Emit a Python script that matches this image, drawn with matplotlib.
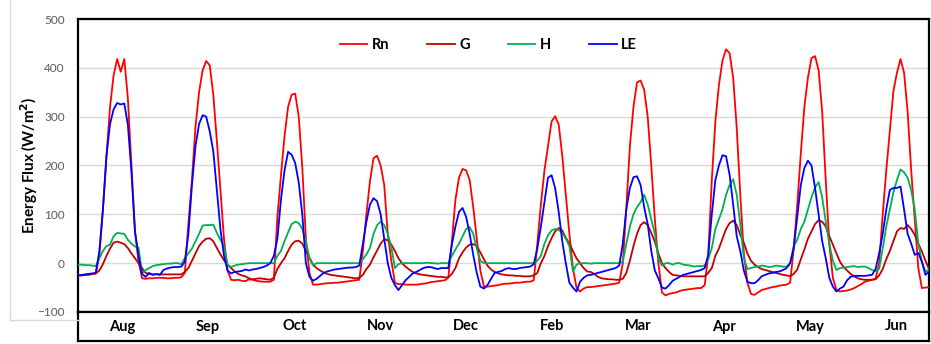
import matplotlib
matplotlib.use("Agg")
import matplotlib.pyplot as plt
from matplotlib.lines import Line2D
import numpy as np

plt.rcParams['font.family'] = ['Lato', 'DejaVu Sans']

months = ["Aug", "Sep", "Oct", "Nov", "Dec", "Feb", "Mar", "Apr", "May", "Jun"]
hours_per_month = 24

# Hourly mean diurnal cycles (W/m2), one row of 24 values per month
rn = [
    -25, -25, -24, -24, -22, -21, 15, 110, 220, 320, 385, 418, 392, 418, 338, 200, 65, 3, -31, -32, -31, -31, -30, -30,
    -30, -31, -31, -30, -30, -29, -20, 80, 170, 280, 350, 395, 414, 405, 345, 250, 150, 50, -15, -34, -35, -34, -36, -37,
    -33, -34, -36, -37, -38, -38, -38, -34, 95, 180, 260, 320, 345, 347, 300, 195, 50, -20, -44, -44, -43, -42, -41, -41,
    -40, -40, -39, -38, -37, -36, -35, -34, 25, 100, 168, 215, 220, 200, 160, 60, 5, -40, -43, -43, -44, -44, -44, -44,
    -43, -42, -41, -39, -38, -37, -36, -35, -30, 44, 130, 175, 193, 190, 170, 115, 50, -15, -48, -48, -47, -46, -45, -43,
    -42, -42, -41, -40, -40, -39, -38, -38, -35, 40, 120, 190, 240, 290, 301, 284, 220, 140, 60, -10, -50, -58, -52, -49,
    -49, -48, -47, -46, -45, -44, -43, -42, -40, 0, 115, 240, 320, 370, 374, 355, 300, 200, 90, 0, -60, -66, -63, -61,
    -60, -57, -55, -54, -53, -52, -51, -51, -45, 17, 170, 290, 365, 415, 438, 430, 380, 277, 140, 20, -40, -63, -65, -60,
    -55, -53, -51, -49, -48, -46, -45, -44, -40, 30, 120, 225, 320, 380, 420, 424, 395, 310, 170, 40, -30, -55, -58, -57,
    -56, -54, -51, -47, -43, -38, -36, -34, -32, 0, 100, 190, 270, 352, 390, 418, 390, 310, 190, 90, -10, -51, -50, -49,
]

g = [
    -25, -25, -24, -23, -22, -21, -15, -2, 15, 30, 42, 44, 42, 39, 31, 20, 10, 0, -10, -20, -22, -23, -23, -23,
    -23, -23, -23, -23, -23, -23, -18, -10, 5, 20, 35, 44, 50, 51, 45, 31, 18, 6, -3, -10, -17, -22, -25, -27,
    -31, -33, -32, -31, -32, -33, -34, -30, -12, 0, 10, 25, 38, 45, 46, 40, 25, 12, -3, -10, -15, -19, -22, -24,
    -25, -26, -27, -28, -29, -30, -31, -30, -24, -12, -3, 12, 26, 40, 49, 47, 38, 25, 10, 0, -7, -13, -18, -21,
    -23, -24, -25, -26, -27, -28, -28, -29, -29, -22, -10, 10, 22, 32, 38, 39, 35, 22, 8, -5, -13, -18, -21, -23,
    -24, -25, -25, -26, -26, -27, -27, -27, -25, -20, 0, 15, 35, 51, 65, 72, 67, 52, 40, 25, 10, 0, -10, -17,
    -18, -22, -28, -31, -32, -33, -33, -34, -34, -32, -20, 5, 35, 60, 78, 84, 78, 62, 44, 20, 0, -10, -18, -24,
    -25, -26, -27, -27, -27, -27, -27, -27, -27, -20, -10, 15, 30, 50, 70, 82, 87, 78, 58, 42, 20, 5, -3, -8,
    -12, -14, -16, -18, -20, -22, -24, -25, -27, -22, -13, 8, 28, 50, 65, 80, 88, 85, 75, 55, 38, 20, 3, -8,
    -15, -22, -27, -31, -33, -34, -34, -34, -33, -25, -12, 8, 25, 45, 65, 72, 70, 78, 70, 58, 40, 24, 5, -12,
]

h = [
    -3, -3, -4, -4, -5, -6, 10, 25, 35, 38, 55, 62, 61, 60, 48, 40, 34, 32, -20, -14, -10, -6, -4, -3,
    -2, -1, -1, 0, 0, -2, 10, 20, 30, 45, 60, 77, 78, 78, 79, 62, 48, 35, -3, -8, -5, -3, -2, -1,
    0, 0, 0, 0, 0, 0, 0, 0, 15, 25, 45, 63, 80, 85, 82, 70, 45, 10, -5, 0, 0, 0, 0, 0,
    0, 0, 0, 0, 0, 0, 0, 0, 8, 18, 31, 60, 78, 85, 78, 60, 33, -10, -2, 0, 0, 0, 0, 0,
    0, 0, 1, 0, 0, -1, 0, 0, 0, 15, 28, 40, 55, 70, 74, 60, 30, 5, 0, 0, 0, 0, 0, 0,
    0, 0, 0, 0, 0, 0, 0, 0, 0, 5, 15, 40, 57, 67, 70, 68, 62, 50, 35, -17, -3, 0, 0, 0,
    -1, 0, 0, 0, 0, 0, 0, 0, 0, 3, 40, 75, 100, 115, 125, 140, 120, 90, 60, 10, -5, 0, 0, -3,
    0, 0, -3, -4, -5, -7, -6, -6, -5, 8, 31, 70, 90, 110, 140, 160, 172, 140, 80, 10, -12, -10, -8, -7,
    -5, -6, -8, -7, -5, -6, -7, -7, 0, 35, 48, 70, 85, 110, 135, 155, 166, 135, 85, 40, 5, -14, -10, -9,
    -8, -7, -6, -8, -7, -7, -10, -14, -16, -12, 30, 75, 110, 145, 170, 192, 186, 175, 150, 110, 40, 3, -17, -14,
]

le = [
    -25, -24, -23, -22, -21, -20, 25, 110, 220, 285, 315, 328, 325, 327, 284, 188, 65, 15, -22, -28, -20, -24, -22, -24,
    -14, -11, -9, -8, -8, -7, 3, 60, 160, 240, 285, 303, 300, 270, 229, 150, 70, 15, -15, -21, -18, -17, -16, -13,
    -15, -13, -12, -10, -8, -5, 0, 15, 50, 130, 190, 228, 222, 205, 165, 99, 0, -28, -36, -32, -26, -20, -17, -15,
    -13, -12, -11, -10, -9, -9, -8, -5, 40, 85, 120, 133, 127, 100, 50, 0, -30, -45, -55, -45, -35, -28, -21, -18,
    -14, -10, -8, -8, -10, -12, -10, -10, -10, 38, 75, 105, 113, 95, 60, 17, -20, -48, -52, -45, -32, -20, -18, -16,
    -12, -10, -12, -12, -10, -9, -8, -7, -2, 30, 75, 125, 175, 180, 154, 105, 45, 0, -40, -50, -58, -38, -30, -25,
    -24, -22, -20, -18, -16, -14, -12, -10, -5, 40, 110, 154, 176, 178, 160, 115, 80, 25, -15, -31, -50, -52, -45, -36,
    -32, -28, -24, -22, -20, -18, -16, -14, -10, 17, 100, 170, 200, 221, 219, 181, 120, 55, 25, -15, -38, -41, -41, -35,
    -27, -24, -21, -20, -18, -17, -14, -10, 0, 30, 95, 160, 195, 210, 200, 154, 100, 45, 10, -30, -48, -58, -52, -48,
    -35, -28, -26, -26, -26, -26, -25, -24, -12, 20, 60, 110, 150, 154, 154, 157, 110, 60, 40, 17, 21, 3, -24, -17,
]

series_names = ["Rn", "G", "H", "LE"]
series_colors = ["#FF0000", "#C00000", "#00B050", "#0000FF"]
y_ticks = [-100, 0, 100, 200, 300, 400, 500]

W, H = 931, 344
fig = plt.figure(figsize=(W / 100, H / 100), dpi=100)

# outer light-grey chart border fragments
fig.add_artist(Line2D([10 / W, 10 / W], [1, 1 - 320 / H], color="#D9D9D9", lw=1, transform=fig.transFigure))
fig.add_artist(Line2D([10 / W, 78 / W], [1 - 320 / H, 1 - 320 / H], color="#D9D9D9", lw=1, transform=fig.transFigure))

ax = fig.add_axes([78 / W, 1 - 312 / H, 851 / W, 293 / H])
x = np.arange(len(rn))
for vals, name, col in zip([rn, g, h, le], series_names, series_colors):
    ax.plot(x, vals, color=col, lw=1.3, label=name, zorder=3)

ax.set_xlim(0, len(rn) - 1)
ax.set_ylim(-100, 500)
ax.set_yticks(y_ticks)
ax.set_xticks([])
ax.grid(axis="y", color="#D9D9D9", lw=1, zorder=0)
ax.set_axisbelow(True)
ax.tick_params(axis="y", length=0, pad=9.5, labelsize=8.5, labelcolor="#595959")
for sp in ax.spines.values():
    sp.set_linewidth(1.6)
    sp.set_color("black")
ax.set_ylabel("Energy Flux (W/m$^\\mathbf{2}$)", fontsize=11, fontweight="bold", color="black")
ax.yaxis.set_label_coords(-0.045, 0.5)

leg = ax.legend(ncol=4, loc="center", bbox_to_anchor=(0.482, 0.911), frameon=False,
                prop=dict(weight="bold", size=10.5), handlelength=1.9, handletextpad=0.3,
                columnspacing=2.6)

band = fig.add_axes([78 / W, 3 / H, 851 / W, 29 / H])
band.set_xlim(0, len(rn) - 1)
band.set_ylim(0, 1)
band.set_xticks([])
band.set_yticks([])
for sp in band.spines.values():
    sp.set_linewidth(1.6)
    sp.set_color("black")
for m, name in enumerate(months):
    band.text(12.4 + m * 24.15, 0.5, name, ha="center", va="center",
              fontsize=10.5, fontweight="bold", color="black")

fig.savefig("out.png", dpi=100)
